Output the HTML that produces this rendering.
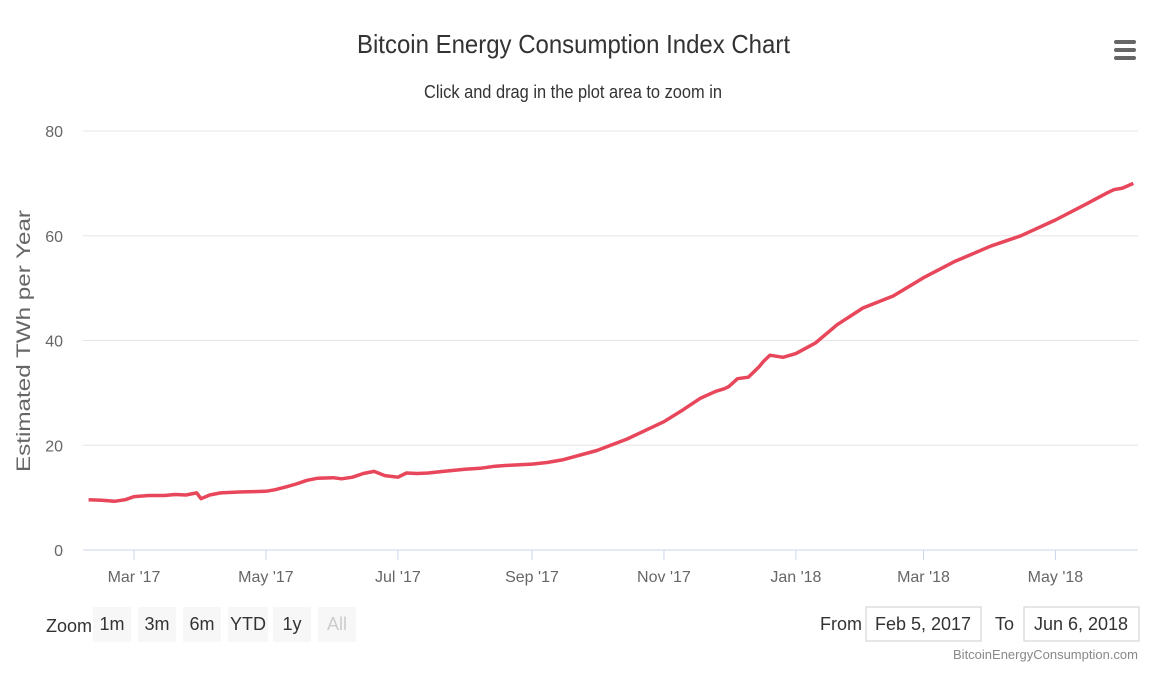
<!DOCTYPE html>
<html><head><meta charset="utf-8">
<style>
body{margin:0;background:#fff;width:1170px;height:674px;overflow:hidden;font-family:"Liberation Sans Narrow","Liberation Sans",sans-serif;}
svg text{font-family:"Liberation Sans Narrow","Liberation Sans",sans-serif;}
</style></head>
<body>
<svg id="chart" width="1170" height="674">
<text x="357" y="53" textLength="433" lengthAdjust="spacingAndGlyphs" font-size="26" fill="#333">Bitcoin Energy Consumption Index Chart</text>
<text x="424" y="98" textLength="298" lengthAdjust="spacingAndGlyphs" font-size="18" fill="#333">Click and drag in the plot area to zoom in</text>
<g fill="#666">
<rect x="1114" y="40" width="22" height="4" rx="2"/><rect x="1114" y="48" width="22" height="4" rx="2"/><rect x="1114" y="56" width="22" height="4" rx="2"/>
</g>
<g id="grid"></g>
<g id="xaxis"></g>
<text transform="translate(30,472) rotate(-90)" textLength="262" lengthAdjust="spacingAndGlyphs" font-size="19" fill="#666" font-family="Liberation Sans">Estimated TWh per Year</text>
<path id="line" fill="none" stroke="#e8475b" stroke-width="3.5" stroke-linejoin="round"/>
<text x="46" y="632" font-size="18" fill="#333">Zoom</text>
<g id="zoombtns"></g>
<text x="820" y="630" font-size="18" fill="#333">From</text>
<rect x="866" y="607" width="115" height="34" fill="#fff" stroke="#ccc"/>
<text x="923" y="630" text-anchor="middle" font-size="18" fill="#333">Feb 5, 2017</text>
<text x="995" y="630" font-size="18" fill="#333">To</text>
<rect x="1024" y="607" width="115" height="34" fill="#fff" stroke="#ccc"/>
<text x="1081" y="630" text-anchor="middle" font-size="18" fill="#333">Jun 6, 2018</text>
<text x="1138" y="659" text-anchor="end" font-size="13" fill="#888">BitcoinEnergyConsumption.com</text>
</svg>
<script>
const yTicks=[0,20,40,60,80];
const xTickLabels=["Mar '17","May '17","Jul '17","Sep '17","Nov '17","Jan '18","Mar '18","May '18"];
const xTickDates=["2017-03-01","2017-05-01","2017-07-01","2017-09-01","2017-11-01","2018-01-01","2018-03-01","2018-05-01"];
const dates=["2017-02-08","2017-02-14","2017-02-20","2017-02-25","2017-03-01","2017-03-08","2017-03-15","2017-03-20","2017-03-25","2017-03-30","2017-04-01","2017-04-05","2017-04-10","2017-04-20","2017-05-01","2017-05-05","2017-05-10","2017-05-15","2017-05-20","2017-05-25","2017-06-01","2017-06-05","2017-06-10","2017-06-15","2017-06-20","2017-06-25","2017-07-01","2017-07-05","2017-07-10","2017-07-15","2017-07-22","2017-08-01","2017-08-08","2017-08-15","2017-08-22","2017-09-01","2017-09-08","2017-09-15","2017-10-01","2017-10-15","2017-11-01","2017-11-10","2017-11-18","2017-11-25","2017-11-29","2017-12-01","2017-12-05","2017-12-10","2017-12-15","2017-12-17","2017-12-20","2017-12-26","2018-01-01","2018-01-10","2018-01-20","2018-02-01","2018-02-15","2018-03-01","2018-03-15","2018-04-01","2018-04-15","2018-05-01","2018-05-15","2018-05-25","2018-05-28","2018-06-01","2018-06-06"];
const values=[9.6,9.5,9.3,9.6,10.2,10.4,10.4,10.6,10.5,10.9,9.8,10.5,10.9,11.1,11.2,11.5,12.0,12.6,13.3,13.7,13.8,13.6,13.9,14.6,15.0,14.2,13.9,14.7,14.6,14.7,15.0,15.4,15.6,16.0,16.2,16.4,16.7,17.2,19.0,21.2,24.5,26.8,29.0,30.3,30.8,31.2,32.7,33.0,35.0,36.0,37.2,36.8,37.5,39.5,43.0,46.2,48.5,52.0,55.0,58.0,60.0,63.0,66.0,68.2,68.8,69.1,70.0];
const NS="http://www.w3.org/2000/svg";
const d0=Date.parse("2017-03-01");
function xs(d){return 134+(Date.parse(d)-d0)/864e5*2.163;}
function ys(v){return 550-v*(419/80);}
function mk(t,a,p){const e=document.createElementNS(NS,t);for(const k in a)e.setAttribute(k,a[k]);p.appendChild(e);return e;}
const grid=document.getElementById('grid');
yTicks.forEach(v=>{
  const l=mk('line',{x1:83,x2:1138,y1:ys(v),y2:ys(v),stroke:v===0?'#ccd6eb':'#e6e6e6','stroke-width':1},grid);
  
  
  const t=mk('text',{x:63,y:ys(v)+6,'text-anchor':'end','font-size':16,fill:'#666'},grid);
  t.textContent=v;
  
  
});
const xa=document.getElementById('xaxis');
xTickDates.forEach((d,i)=>{
  const x=xs(d);
  const l=mk('line',{x1:x,x2:x,y1:550,y2:560,stroke:'#ccd6eb'},xa);
  
  
  const t=mk('text',{x:x,y:582,'text-anchor':'middle','font-size':16,fill:'#666'},xa);
  t.textContent=xTickLabels[i];
  
  
});
document.getElementById('line').setAttribute('d',dates.map((d,i)=>(i?'L':'M')+xs(d).toFixed(1)+','+ys(values[i]).toFixed(1)).join(''));
const zb=document.getElementById('zoombtns');
const btns=[["1m",93],["3m",138],["6m",183],["YTD",228],["1y",273],["All",318]];
btns.forEach(([lab,x])=>{
  const r=mk('rect',{x:x,y:607,width:lab==="YTD"?40:38,height:35,fill:'#f7f7f7'},zb);
  
  
  const t=mk('text',{x:x+(lab==="YTD"?20:19),y:630,'text-anchor':'middle','font-size':18,fill:lab==="All"?'#ccc':'#333'},zb);
  t.textContent=lab;
  
  
});
</script>
</body></html>
